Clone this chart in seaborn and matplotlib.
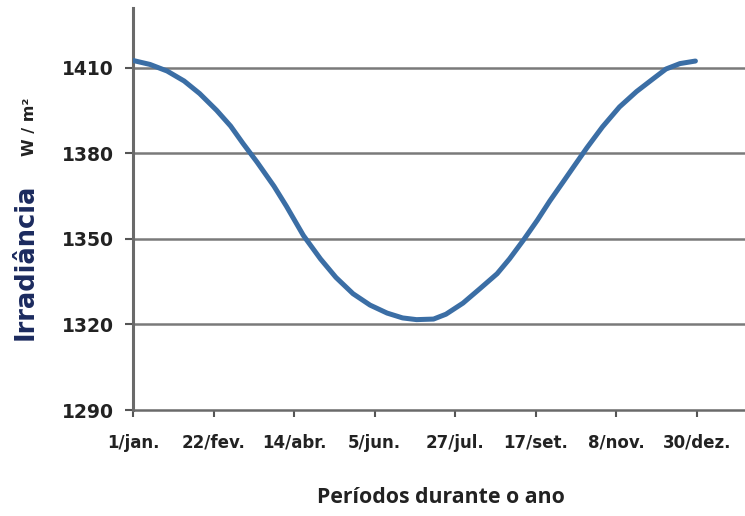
"""Irradiância solar ao longo do ano."""

import matplotlib
matplotlib.use('Agg')
import matplotlib.pyplot as plt
import pandas as pd
import seaborn as sns

# Curve (day of year, W/m2)
days = [1, 12, 23, 34, 44, 55, 64, 72, 81, 92, 100, 111, 122, 132, 143,
        154, 165, 175, 184, 195, 203, 214, 225, 236, 244, 253, 262, 270,
        279, 285, 294, 304, 315, 326, 337, 345, 354, 364]
irradiance = [1412.6, 1411.2, 1408.9, 1405.4, 1401.0, 1395.1, 1389.6, 1383.5,
              1377.0, 1368.5, 1361.5, 1351.2, 1343.0, 1336.5, 1330.8, 1326.8,
              1324.0, 1322.3, 1321.7, 1321.9, 1323.6, 1327.5, 1332.6, 1337.8,
              1343.0, 1349.6, 1356.6, 1363.3, 1370.3, 1375.0, 1382.0, 1389.3,
              1396.3, 1401.7, 1406.3, 1409.6, 1411.5, 1412.4]

tick_days = [1, 53, 105, 157, 209, 261, 313, 365]
tick_labels = ['1/jan.', '22/fev.', '14/abr.', '5/jun.', '27/jul.', '17/set.',
               '8/nov.', '30/dez.']
y_ticks = [1290, 1320, 1350, 1380, 1410]

df = pd.DataFrame({'dia': days, 'irradiancia': irradiance})

sns.set_style('white')
plt.rcParams['font.family'] = ['DejaVu Sans']

fig = plt.figure(figsize=(7.45, 5.16), dpi=100)
ax = fig.add_axes([0.1785, 0.2054, 0.8215, 0.7791])

line = sns.lineplot(data=df, x='dia', y='irradiancia', ax=ax, color='#3b6ea5',
                    linewidth=3.6, zorder=3)
line.lines[0].set_solid_joinstyle('round')
line.lines[0].set_solid_capstyle('round')

ax.set_xlim(1, 396)
ax.set_ylim(1290, 1431)
ax.set_xticks(tick_days)
ax.set_xticklabels(tick_labels)
ax.set_yticks(y_ticks)
ax.set_yticklabels([f'{v}' for v in y_ticks])

# horizontal grid only
for v in y_ticks[1:]:
    ax.axhline(v, color='#7a7a7a', linewidth=1.8, zorder=1)

for side in ['top', 'right']:
    ax.spines[side].set_visible(False)
ax.spines['left'].set_color('#6a6a6a')
ax.spines['left'].set_linewidth(2.2)
ax.spines['bottom'].set_color('#6a6a6a')
ax.spines['bottom'].set_linewidth(1.8)

ax.tick_params(axis='y', left=True, direction='out', length=6, width=1.5,
               color='#555555', pad=8, labelsize=13.5, labelcolor='#222222')
ax.tick_params(axis='x', bottom=True, direction='out', length=5, width=1.5,
               color='#555555', pad=12, labelsize=12, labelcolor='#222222')
for lbl in ax.get_xticklabels() + ax.get_yticklabels():
    lbl.set_fontweight('bold')

ax.set_xlabel('')
ax.set_ylabel('')

fig.text(0.592, 0.035, 'Períodos durante o ano', ha='center', va='center',
         fontsize=15.3, fontweight='bold', color='#222222', family='Open Sans')
fig.text(0.035, 0.492, 'Irradiância', rotation=90, ha='center', va='center',
         fontsize=18.5, fontweight='bold', color='#1b2a5e')
fig.text(0.040, 0.754, 'W / m²', rotation=90, ha='center', va='center',
         fontsize=11.5, fontweight='bold', color='#222222')

fig.savefig('out.png', dpi=100)
plt.close(fig)
